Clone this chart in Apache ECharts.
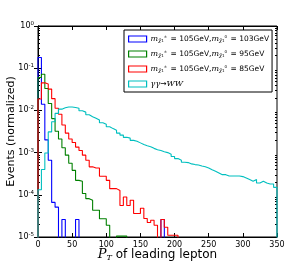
<!DOCTYPE html>
<html><head><meta charset="utf-8">
<script src="https://cdn.jsdelivr.net/npm/echarts@6/dist/echarts.min.js"></script>
<style>html,body{margin:0;padding:0;background:#fff}#c{width:308px;height:264px}</style>
</head><body><div id="c"></div>
<script>
// histogram bin width (GeV) and axis ticks
const binWidth = 5;
const xTicks = [0, 50, 100, 150, 200, 250, 300, 350];
const yMin = 1e-5, yMax = 1;
const minorMultipliers = [2, 3, 4, 5, 6, 7, 8, 9];

const seriesNames = ['m103', 'm95', 'm85', 'WW'];
const seriesColors = ['#0000ff', '#008000', '#ff0000', '#00bfbf'];

// normalized events per 5 GeV bin, starting at 0 GeV
const blue = [0.18, 0.014, 0.0020, 6.6e-4, 6.6e-5, 5.1e-5, 0, 2.6e-5, 0, 0,
  0, 2.6e-5, 0, 0, 0, 0, 0, 0, 0, 0,
  0, 0, 0, 0, 0, 0, 0, 0, 0, 0,
  0, 0, 0, 0, 0, 0, 2.6e-5];
const green = [0.060, 0.072, 0.033, 0.0146, 0.0064, 0.0032, 0.0021, 0.0013, 8.7e-4, 5.6e-4,
  3.8e-4, 2.2e-4, 2.1e-4, 1.07e-4, 8.1e-5, 7.4e-5, 4.3e-5, 4.3e-5, 2.7e-5, 2.7e-5,
  1.9e-5, 0, 0, 1.05e-5, 1.05e-5, 1.05e-5];
const red = [0.0186, 0.045, 0.042, 0.032, 0.019, 0.0112, 0.0081, 0.0045, 0.0029, 0.0021,
  0.00174, 0.00135, 0.00112, 8.7e-4, 6.6e-4, 4.6e-4, 4.3e-4, 4.3e-4, 2.75e-4, 2.75e-4,
  2.2e-4, 1.4e-4, 1.4e-4, 1.26e-4, 5.6e-5, 8.9e-5, 5.6e-5, 7.4e-5, 3.6e-5, 3.6e-5,
  4.8e-5, 2.75e-5, 2.2e-5, 2.5e-5, 1.9e-5, 0, 2.6e-5, 1.7e-5, 1.1e-5, 1.1e-5,
  1.1e-5];
const cyan = [1.32e-4, 3.98e-4, 9.8e-4, 0.00309, 0.00537, 0.0085, 0.0107, 0.0115, 0.0120, 0.0120,
  0.0117, 0.0112, 0.0098, 0.0091, 0.0079, 0.0071, 0.0065, 0.0059, 0.0051, 0.0047,
  0.0041, 0.0037, 0.0034, 0.0029, 0.0026, 0.0023, 0.0022, 0.00195, 0.00186, 0.0017,
  0.00155, 0.00145, 0.00138, 0.00126, 0.00117, 0.00112, 0.00105, 0.00100, 9.1e-4, 8.1e-4,
  7.2e-4, 6.6e-4, 5.9e-4, 5.8e-4, 5.4e-4, 5.2e-4, 5.1e-4, 4.8e-4, 4.6e-4, 4.3e-4,
  3.9e-4, 3.6e-4, 3.3e-4, 3.0e-4, 3.0e-4, 2.8e-4, 2.8e-4, 2.8e-4, 2.8e-4, 2.7e-4,
  2.5e-4, 2.3e-4, 2.1e-4, 2.3e-4, 1.9e-4, 2.1e-4, 1.9e-4, 1.8e-4, 1.8e-4, 1.5e-4];

const allValues = [blue, green, red, cyan];

const legendTexts = {
  m103: '{i|m}{sb|χ̃}{sb2|1}{sp|±} = 105GeV,{i|m}{sb|χ̃}{sb2|1}{sp|0} = 103GeV',
  m95: '{i|m}{sb|χ̃}{sb2|1}{sp|±} = 105GeV,{i|m}{sb|χ̃}{sb2|1}{sp|0} = 95GeV',
  m85: '{i|m}{sb|χ̃}{sb2|1}{sp|±} = 105GeV,{i|m}{sb|χ̃}{sb2|1}{sp|0} = 85GeV',
  WW: '{i|γγ}→{i|WW}'
};

const FLOOR = 1e-9; // empty bins drop below the axis and are clipped
function toSteps(vals) {
  const pts = [[0, FLOOR]];
  vals.forEach((v, i) => pts.push([i * binWidth, v > 0 ? v : FLOOR]));
  pts.push([vals.length * binWidth, FLOOR]);
  return pts;
}

const chart = echarts.init(document.getElementById('c'), null, {renderer: 'canvas'});
const font = 'DejaVu Sans';
const tickStyle = {show: true, inside: true, length: 4, lineStyle: {color: '#000', width: 1}};

chart.setOption({
  animation: false,
  backgroundColor: '#fff',
  grid: {left: 38, right: 31, top: 26, bottom: 27, containLabel: false, outerBoundsMode: 'none',
    show: true, borderColor: '#000', borderWidth: 1, backgroundColor: 'transparent'},
  legend: {
    orient: 'vertical', left: 124, top: 30,
    backgroundColor: '#fff', borderColor: '#000', borderWidth: 1,
    padding: [5, 3, 4, 4], itemGap: 7, itemWidth: 18, itemHeight: 6,
    icon: 'rect',
    data: seriesNames.map((n, i) => ({name: n, icon: 'rect', itemStyle: {color: '#fff', borderColor: seriesColors[i], borderWidth: 1.2}})),
    formatter: n => legendTexts[n],
    textStyle: {
      fontFamily: font, fontSize: 7.5, color: '#000', padding: [0, 0, 0, -1],
      rich: {
        i: {fontFamily: 'DejaVu Serif', fontStyle: 'italic', fontSize: 8},
        sb: {fontFamily: 'DejaVu Serif', fontStyle: 'italic', fontSize: 5, verticalAlign: 'bottom', padding: [3, 0, 0, 0]},
        sb2: {fontFamily: font, fontSize: 4, verticalAlign: 'bottom', padding: [4, 0, 0, 0]},
        sp: {fontFamily: font, fontSize: 4, verticalAlign: 'top', padding: [0, 1, 3, 0]}
      }
    }
  },
  xAxis: [{
    type: 'value', min: xTicks[0], max: xTicks[xTicks.length - 1], interval: 50,
    axisLine: {show: true, lineStyle: {color: '#000'}},
    axisTick: tickStyle, splitLine: {show: false},
    axisLabel: {fontFamily: font, fontSize: 8, color: '#000', margin: 4},
    name: '{p|P}{t|T}{n| of leading lepton}', nameLocation: 'middle', nameGap: 11, nameMoveOverlap: false,
    nameTextStyle: {rich: {
      p: {fontFamily: 'DejaVu Serif', fontStyle: 'italic', fontSize: 13, color: '#000'},
      t: {fontFamily: 'DejaVu Serif', fontStyle: 'italic', fontSize: 8, color: '#000', verticalAlign: 'bottom', padding: [6, 0, 0, 0]},
      n: {fontFamily: font, fontSize: 12, color: '#000'}
    }}
  }, {
    type: 'value', position: 'top', min: xTicks[0], max: xTicks[xTicks.length - 1], interval: 50,
    axisLine: {show: true, lineStyle: {color: '#000'}}, axisTick: tickStyle,
    axisLabel: {show: false}, splitLine: {show: false}
  }],
  yAxis: [{
    type: 'log', logBase: 10, min: yMin, max: yMax,
    axisLine: {show: true, lineStyle: {color: '#000'}},
    axisTick: tickStyle, splitLine: {show: false},
    axisLabel: {
      margin: 4,
      formatter: v => '{b|10}{s|' + Math.round(Math.log10(v)) + '}',
      rich: {
        b: {fontFamily: font, fontSize: 8, color: '#000'},
        s: {fontFamily: font, fontSize: 5.5, color: '#000', verticalAlign: 'top', padding: [0, 0, 5, 0]}
      }
    },
    name: 'Events (normalized)', nameLocation: 'middle', nameGap: 21, nameRotate: 90, nameMoveOverlap: false,
    nameTextStyle: {fontFamily: font, fontSize: 11, color: '#000'}
  }, {
    type: 'log', logBase: 10, min: yMin, max: yMax, position: 'right',
    axisLine: {show: true, lineStyle: {color: '#000'}},
    axisTick: tickStyle, axisLabel: {show: false}, splitLine: {show: false}
  }],
  series: seriesNames.map((n, i) => ({
    name: n, type: 'line', step: 'end', showSymbol: false, symbol: 'none', clip: true,
    xAxisIndex: 0, yAxisIndex: 0,
    data: toSteps(allValues[i]),
    itemStyle: {color: seriesColors[i]},
    lineStyle: {color: seriesColors[i], width: 1.1}
  }))
});

// logarithmic minor ticks (2..9 x 10^k) on left and right axes, placed via the axis scale
const minor = [];
const xl = chart.convertToPixel({xAxisIndex: 0}, xTicks[0]);
const xr = chart.convertToPixel({xAxisIndex: 0}, xTicks[xTicks.length - 1]);
for (let e = Math.log10(yMin); e < Math.log10(yMax); e++) {
  minorMultipliers.forEach(m => {
    const y = Math.round(chart.convertToPixel({yAxisIndex: 0}, m * Math.pow(10, e))) + 0.5;
    minor.push({type: 'line', shape: {x1: xl, y1: y, x2: xl + 2, y2: y}, style: {stroke: '#000', lineWidth: 1}, silent: true});
    minor.push({type: 'line', shape: {x1: xr - 2, y1: y, x2: xr, y2: y}, style: {stroke: '#000', lineWidth: 1}, silent: true});
  });
}
chart.setOption({graphic: minor});
</script></body></html>
